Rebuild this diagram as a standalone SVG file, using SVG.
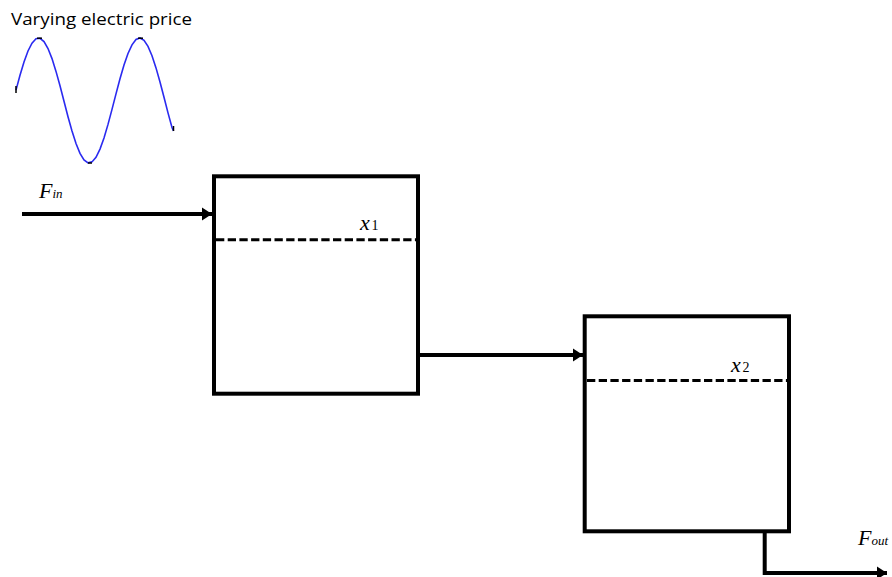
<svg xmlns="http://www.w3.org/2000/svg" width="892" height="577" viewBox="0 0 892 577">
<style>
.box{fill:none;stroke:#000;stroke-width:4}
.dash{stroke:#000;stroke-width:3;stroke-dasharray:8.3 3.4;fill:none}
.flow{stroke:#000;stroke-width:4;fill:none}
.lbl{font-family:"Liberation Serif",serif;font-style:italic;fill:#000}
.sub{font-family:"Liberation Serif",serif;fill:#000}
.cap{font-family:"Open Sans","Liberation Sans",sans-serif;font-size:16.5px;fill:#000}
</style>
<defs>
<marker id="ah" markerUnits="userSpaceOnUse" markerWidth="12" markerHeight="14" refX="10" refY="7" orient="auto">
<path d="M0,0.5 L10,7 L0,13.5 Z" fill="#000"/>
</marker>
</defs>
<rect width="892" height="577" fill="#fff"/>
<g id="price">
<text class="cap" x="11" y="25" textLength="181" lengthAdjust="spacingAndGlyphs">Varying electric price</text>
<polyline fill="none" stroke="#2a2af0" stroke-width="1.6" points="16,90.1 20,75.2 24,61.9 28,51 32,43.1 36,38.8 40,38.3 44,41.6 48,48.5 52,58.6 56,71.4 60,85.8 64,101.3 68,116.7 72,131 76,143.5 80,153.4 84,159.9 88,162.9 92,161.9 96,157.3 100,149.1 104,137.9 108,124.4 112,109.4 116,93.9 120,78.8 124,65.1 128,53.5 132,44.8 136,39.5 140,38 144,40.4 148,46.4 152,55.8 156,67.9 160,82 164,97.3 168,112.9 172,127.5 173.5,131"/>
<g stroke="#000" stroke-width="1.5">
<line x1="16" y1="86" x2="16" y2="93"/>
<line x1="37" y1="38.2" x2="42" y2="38.2"/>
<line x1="88" y1="163" x2="92" y2="163"/>
<line x1="138" y1="38.2" x2="143" y2="38.2"/>
<line x1="173.5" y1="126" x2="173.5" y2="131"/>
</g>
</g>
<g id="tank1">
<rect class="box" x="214" y="176.3" width="204" height="217.4"/>
<line class="dash" x1="216" y1="239.7" x2="416" y2="239.7"/>
<text class="lbl" x="360" y="230" font-size="22">x</text>
<text class="sub" x="371.5" y="230" font-size="14">1</text>
</g>
<g id="tank2">
<rect class="box" x="584.7" y="316.3" width="204.3" height="215"/>
<line class="dash" x1="587" y1="380.5" x2="787" y2="380.5"/>
<text class="lbl" x="731" y="371.5" font-size="22">x</text>
<text class="sub" x="742.5" y="371.5" font-size="14">2</text>
</g>
<g id="labels">
<text class="lbl" x="39" y="198" font-size="22">F<tspan font-size="13" dy="0">in</tspan></text>
<text class="lbl" x="858" y="545" font-size="22">F<tspan font-size="13">out</tspan></text>
</g>
<g id="connectors">
<line class="flow" x1="22" y1="214" x2="212" y2="214" marker-end="url(#ah)"/>
<line class="flow" x1="418" y1="355" x2="583" y2="355" marker-end="url(#ah)"/>
<polyline class="flow" points="764.7,531 764.7,573 887,573" marker-end="url(#ah)"/>
</g>
</svg>
